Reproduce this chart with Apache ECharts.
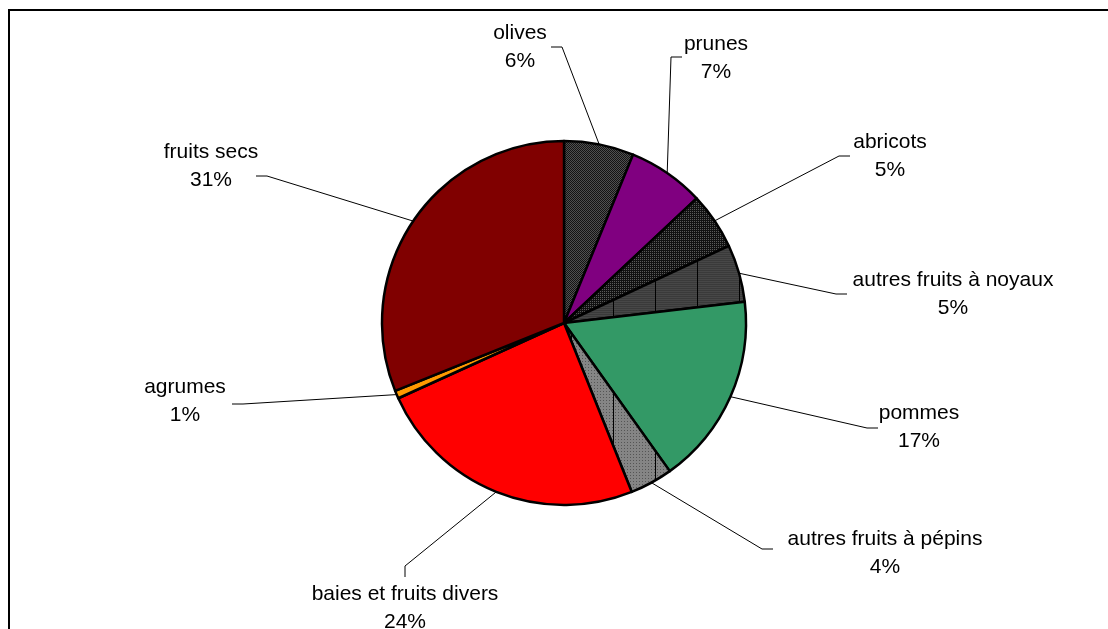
<!DOCTYPE html>
<html><head><meta charset="utf-8">
<script src="https://cdn.jsdelivr.net/npm/echarts@6/dist/echarts.min.js"></script>
<style>html,body{margin:0;padding:0;background:#fff}#c{width:1108px;height:629px}</style>
</head><body><div id="c"></div>
<script>
// Data
const categories = ['olives','prunes','abricots','autres fruits à noyaux','pommes','autres fruits à pépins','baies et fruits divers','agrumes','fruits secs'];
const shares = [6.2, 6.8, 5.05, 5.1, 17.0, 3.8, 24.3, 0.7, 31.1];

// Label placement (layout only)
const labelCenters = [[520,47],[716,58],[890,156],[953,294],[919,427],[885,553],[405,608],[185,401],[211,166]];
const lineEnds = [[551,47],[682,57],[850,156],[847,294],[878,428],[773,549],[405,577],[232,404],[256,176]];
const elbowDir = [[1,0],[-1,0],[-1,0],[-1,0],[-1,0],[-1,0],[0,-1],[1,0],[1,0]];

function pat(w,h,draw){const c=document.createElement('canvas');c.width=w;c.height=h;const g=c.getContext('2d');draw(g);return {image:c,repeat:'repeat'};}
const checker = pat(2,2,g=>{g.fillStyle='#141414';g.fillRect(0,0,2,2);g.fillStyle='#505050';g.fillRect(1,0,1,1);g.fillRect(0,1,1,1);});
const hlines = pat(2,2,g=>{g.fillStyle='#111';g.fillRect(0,0,2,2);g.fillStyle='#5a5a5a';g.fillRect(0,1,1,1);});
const vstripe = pat(42,2,g=>{g.fillStyle='#474747';g.fillRect(0,0,42,2);g.fillStyle='#3a3a3a';g.fillRect(0,0,42,1);g.fillStyle='#000';g.fillRect(25,0,1,2);});
const dots = pat(42,3,g=>{g.fillStyle='#858585';g.fillRect(0,0,42,3);g.fillStyle='#555';for(let x=0;x<42;x+=3){g.fillRect(x,1,1,1);}g.fillStyle='#000';g.fillRect(25,0,1,3);});
const colors = [checker,'#800080',hlines,vstripe,'#339966',dots,'#FF0000','#FF9900','#800000'];

const chart = echarts.init(document.getElementById('c'),null,{renderer:'canvas'});
chart.setOption({
  animation:false,
  graphic:[{type:'rect',shape:{x:9,y:10,width:1300,height:1000},style:{fill:'none',stroke:'#000',lineWidth:2},z:100}],
  series:[{
    type:'pie',
    center:[564,323],
    radius:[0,182],
    startAngle:90,
    clockwise:true,
    avoidLabelOverlap:false,
    percentPrecision:0,
    data:categories.map((n,i)=>({name:n,value:shares[i],itemStyle:{color:colors[i]}})),
    itemStyle:{borderColor:'#000',borderWidth:2.5},
    label:{show:true,position:'outside',formatter:'{b}\n{d}%',fontFamily:'Liberation Sans, Arial, sans-serif',fontSize:21,lineHeight:28,color:'#000',align:'center'},
    labelLine:{show:true,length:10,length2:10,lineStyle:{color:'#000',width:1}},
    emphasis:{disabled:true},
    labelLayout:function(p){
      const i=p.dataIndex;
      const s=p.labelLinePoints?p.labelLinePoints[0]:null;
      const e=lineEnds[i];
      const el=[e[0]+elbowDir[i][0]*11,e[1]+elbowDir[i][1]*11];
      const r={x:labelCenters[i][0],y:labelCenters[i][1],align:'center',verticalAlign:'middle'};
      if(s) r.labelLinePoints=[[s[0],s[1]],el,[e[0],e[1]]];
      return r;
    }
  }]
});
</script></body></html>
